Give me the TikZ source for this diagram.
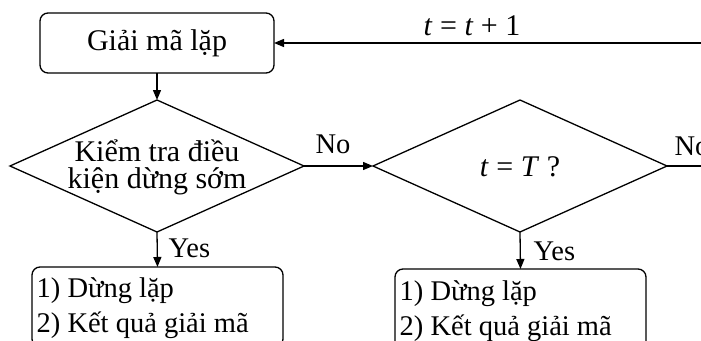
\documentclass[tikz,border=0pt]{standalone}
\usepackage{fontspec}
\setmainfont{Liberation Serif}
\usetikzlibrary{arrows.meta,shapes.geometric}
\begin{document}
\begin{tikzpicture}[x=1pt,y=-1pt,
  line width=1.3pt,
  big/.style={font=\fontsize{30}{27}\selectfont},
  small/.style={font=\fontsize{28.5}{35}\selectfont},
  procbox/.style={draw, rounded corners=8pt, inner sep=0pt, outer sep=0pt, big},
  decision/.style={draw, diamond, inner sep=0pt, outer sep=0pt,
    minimum width=294pt, minimum height=132pt},
  resbox/.style={draw, rounded corners=8pt, inner sep=0pt, outer sep=0pt,
    minimum width=251pt, minimum height=80pt},
  arr/.style={-{Triangle[length=10pt,width=8pt]}},
  lbl/.style={small, inner sep=0pt}
]
\useasboundingbox (0,0) rectangle (701,340);
\clip (0,0) rectangle (701,340);

% iterative decoding block
\node[procbox, minimum width=234pt, minimum height=60pt] (dec) at (157,43) {Giải mã lặp};

% early stopping test
\node[decision] (chk) at (157,166) {};
\node[big, align=center, inner sep=0pt] (chktxt) at (157,167) {Kiểm tra điều\\kiện dừng sớm};

% maximum iteration test
\node[decision] (tchk) at (520,166) {};
\node[big, inner sep=0pt, anchor=base] (tchktxt) at (520,176) {\textit{t} = \textit{T} ?};

% result boxes (the base anchor of a two-line text is its last baseline)
\node[resbox, anchor=north west] (res1) at (32,267) {};
\node[small, anchor=base west, align=left, inner sep=0pt] (res1txt) at (36,332) {1) Dừng lặp\\2) Kết quả giải mã};
\node[resbox, anchor=north west] (res2) at (395,269) {};
\node[small, anchor=base west, align=left, inner sep=0pt] (res2txt) at (399,335) {1) Dừng lặp\\2) Kết quả giải mã};

% loop-back and exit ends
\coordinate (loopin) at (712,43);
\coordinate (exit) at (712,166);

% connectors
\draw[arr] (loopin) -- (dec.east);
\node[big, inner sep=0pt, anchor=base] (inc) at (472,35) {\textit{t} = \textit{t} + 1};
\draw[arr] (dec.south) -- (chk.north);
\draw[arr] (chk.east) -- (tchk.west);
\node[lbl, anchor=base] (no1) at (333,153) {No};
\draw (tchk.east) -- (exit);
\node[lbl, anchor=base west] (no2) at (674,155) {No};
\draw[arr] (chk.south) -- (res1.north);
\node[lbl, anchor=base west] (yes1) at (168,257) {Yes};
\draw[arr] (tchk.south) -- (res2.north);
\node[lbl, anchor=base west] (yes2) at (533,260) {Yes};
\end{tikzpicture}
\end{document}
